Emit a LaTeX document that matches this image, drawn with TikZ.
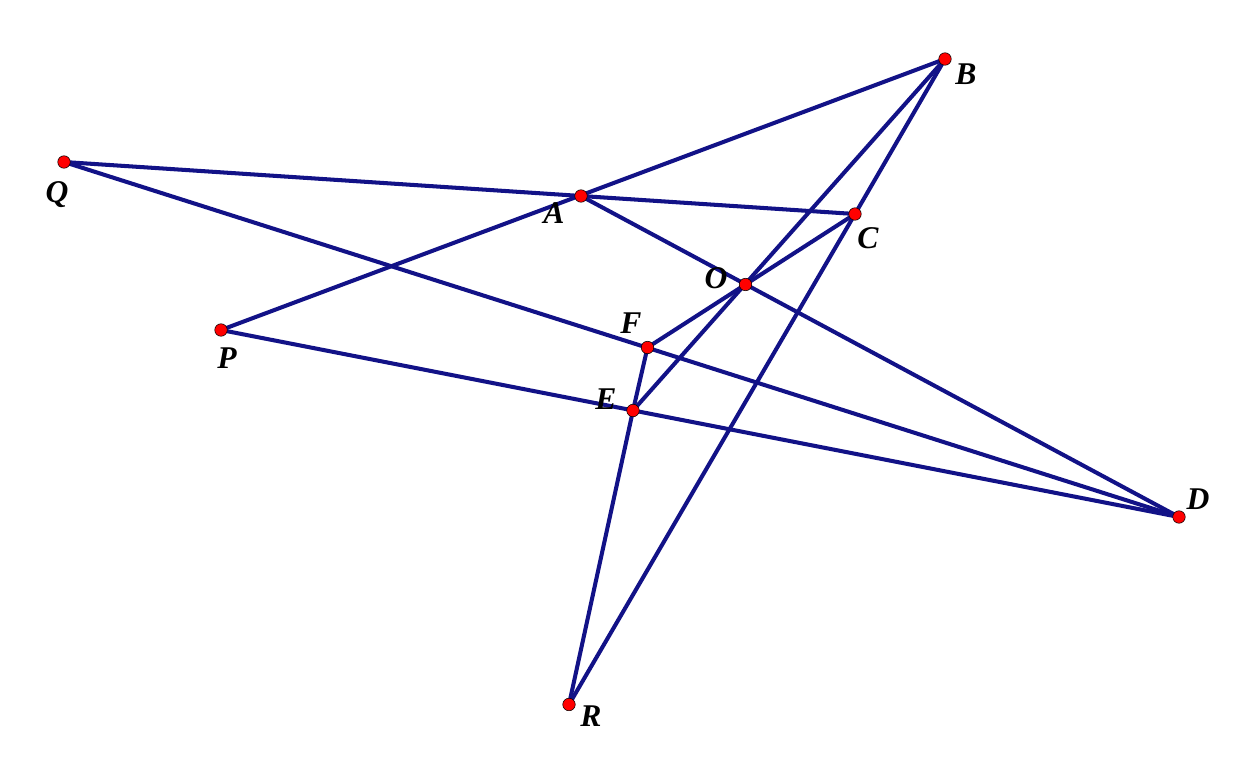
\documentclass[tikz,border=0pt]{standalone}
\usepackage{fontspec}
\setmainfont{Liberation Serif}
\usepackage{tikz}
\usetikzlibrary{positioning}

\definecolor{segblue}{RGB}{18,18,135}

\begin{document}
\begin{tikzpicture}[x=0.02cm, y=-0.02cm,
    seg/.style={draw=segblue, line width=2.3pt},
    pt/.style={circle, fill=red, draw=black, line width=0.3pt, inner sep=0pt, minimum size=0.25cm},
    lab/.style={font=\fontsize{18}{20}\selectfont\bfseries\itshape, inner sep=0pt}]
    \useasboundingbox (0,0) rectangle (1257,770);
        % Define points
        \coordinate (B) at (945,59);
        \coordinate (Q) at (64,162);
        \coordinate (A) at (581,196);
        \coordinate (C) at (855,214);
        \coordinate (O) at (745.5,284.5);
        \coordinate (P) at (221,330);
        \coordinate (F) at (647.5,347.5);
        \coordinate (E) at (633,410.5);
        \coordinate (D) at (1179,517);
        \coordinate (R) at (569,704.5);

        % Draw segments
        \draw[seg] (P) -- (B);
        \draw[seg] (Q) -- (C);
        \draw[seg] (Q) -- (D);
        \draw[seg] (A) -- (D);
        \draw[seg] (B) -- (C);
        \draw[seg] (B) -- (E);
        \draw[seg] (C) -- (F);
        \draw[seg] (P) -- (D);
        \draw[seg] (F) -- (E);
        \draw[seg] (E) -- (R);
        \draw[seg] (C) -- (R);

        % Draw point markers
        \foreach \p in {A,B,C,D,E,F,O,P,Q,R}
            \node (dot\p) [pt] at (\p) {};

        % Add labels
        \node (labA) [lab] at (554,213) {A};
        \node (labB) [lab] at (966,74) {B};
        \node (labC) [lab] at (868,238) {C};
        \node (labO) [lab] at (716,278) {O};
        \node (labF) [lab] at (631,323) {F};
        \node (labE) [lab] at (606,399) {E};
        \node (labD) [lab] at (1198,499) {D};
        \node (labP) [lab] at (227,358) {P};
        \node (labQ) [lab] at (57,195) {Q};
        \node (labR) [lab] at (591,716) {R};
    \end{tikzpicture}
\end{document}
